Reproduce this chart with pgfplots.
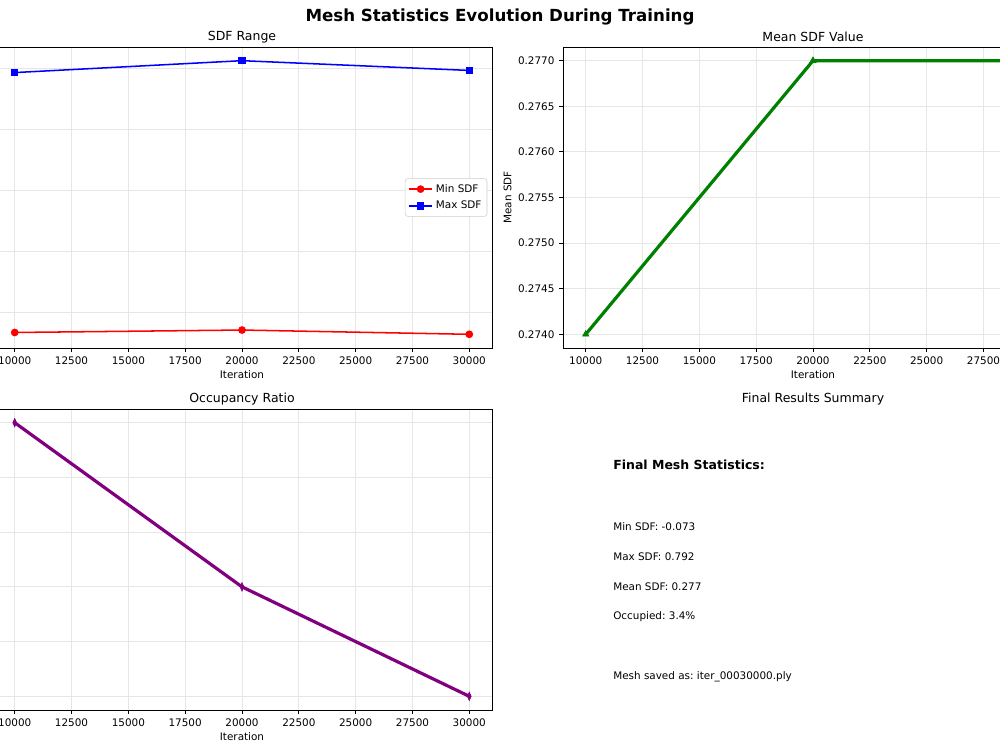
\documentclass[border=0pt]{standalone}
\usepackage{pgfplots}
\pgfplotsset{compat=1.18}
\usepackage{fontspec}
\setmainfont{DejaVu Sans}
\frenchspacing
\definecolor{mplgreen}{HTML}{008000}
\definecolor{mplpurple}{HTML}{800080}
\definecolor{gridgray}{HTML}{E6E6E6}
\pgfplotsset{
  mystyle/.style={
    scale only axis, width=360pt, height=216.72pt,
    anchor=south west,
    xmin=9000, xmax=31000,
    xtick={10000,12500,15000,17500,20000,22500,25000,27500,30000},
    scaled x ticks=false, scaled y ticks=false,
    /pgf/number format/1000 sep={},
    /pgf/number format/assume math mode=true,
    tick label style={font=\fontsize{7.5}{9}\selectfont},
    label style={font=\fontsize{7.5}{9}\selectfont},
    title style={font=\fontsize{9}{11}\selectfont, at={(0.5,1.0055)}, anchor=center},
    xlabel style={at={(0.5,-0.0897)}, anchor=center},
    ylabel style={at={(-0.111,0.5)}, anchor=center},
    grid=major, major grid style={gridgray, line width=0.6pt},
    axis line style={line width=0.6pt, black},
    tick style={black, line width=0.6pt},
    tick align=outside, major tick length=2.6pt,
    tick pos=left,
    clip=false,
  }
}
\begin{document}
\begin{tikzpicture}
\useasboundingbox (0pt,0pt) rectangle (720pt,540pt);
\begin{scope}
\clip (0pt,0pt) rectangle (720pt,540pt);
% Top-left: SDF Range
\begin{axis}[mystyle, at={(-5.76pt,289.44pt)},
  title={SDF Range}, xlabel={Iteration},
  ymin=-0.11785, ymax=0.86885,
  ytick={0,0.2,0.4,0.6,0.8}, yticklabels={},
  legend style={at={(0.9906,0.5)}, anchor=east, draw=black!20, rounded corners=2pt,
    font=\fontsize{7.5}{9}\selectfont, inner sep=2pt, row sep=1pt},
  legend cell align=left]
\addplot[red, line width=1.1pt, mark=*, mark size=2.2pt] coordinates {(10000,-0.067) (20000,-0.059) (30000,-0.073)};
\addlegendentry{Min SDF}
\addplot[blue, line width=1.1pt, mark=square*, mark size=2.0pt] coordinates {(10000,0.785) (20000,0.824) (30000,0.792)};
\addlegendentry{Max SDF}
\end{axis}
% Top-right: Mean SDF Value
\begin{axis}[mystyle, at={(405.36pt,289.44pt)},
  title={Mean SDF Value}, xlabel={Iteration}, ylabel={Mean SDF},
  xtick={10000,12500,15000,17500,20000,22500,25000,27500},
  ymin=0.27385, ymax=0.27715,
  ytick={0.2740,0.2745,0.2750,0.2755,0.2760,0.2765,0.2770},
  yticklabel style={/pgf/number format/.cd, fixed, fixed zerofill, precision=4}]
\addplot[mplgreen, line width=2.3pt, mark=triangle*, mark size=2.6pt, mark options={line width=0.5pt}] coordinates {(10000,0.274) (20000,0.277) (30000,0.277)};
\end{axis}
% Bottom-left: Occupancy Ratio
\begin{axis}[mystyle, at={(-5.76pt,28.8pt)},
  title={Occupancy Ratio}, xlabel={Iteration},
  ymin=0.0335, ymax=0.0445,
  ytick={0.034,0.036,0.038,0.040,0.042,0.044}, yticklabels={}]
\addplot[mplpurple, line width=2.3pt, mark=diamond*, mark size=3pt, mark options={xscale=0.6, line width=0.5pt}] coordinates {(10000,0.044) (20000,0.038) (30000,0.034)};
\end{axis}
% Bottom-right: summary
\begin{axis}[mystyle, at={(405.36pt,28.8pt)}, hide axis,
  xmin=0, xmax=1, ymin=0, ymax=1, grid=none, xtick=\empty, ytick=\empty,
  title={Final Results Summary}]
\node[anchor=west, inner sep=0pt, font=\fontsize{9}{11}\selectfont\bfseries] at (axis cs:0.1,0.814) {Final Mesh Statistics:};
\node[anchor=west, inner sep=0pt, font=\fontsize{7.5}{9}\selectfont] at (axis cs:0.1,0.608) {Min SDF: -0.073};
\node[anchor=west, inner sep=0pt, font=\fontsize{7.5}{9}\selectfont] at (axis cs:0.1,0.508) {Max SDF: 0.792};
\node[anchor=west, inner sep=0pt, font=\fontsize{7.5}{9}\selectfont] at (axis cs:0.1,0.409) {Mean SDF: 0.277};
\node[anchor=west, inner sep=0pt, font=\fontsize{7.5}{9}\selectfont] at (axis cs:0.1,0.309) {Occupied: 3.4\%};
\node[anchor=west, inner sep=0pt, font=\fontsize{7.5}{9}\selectfont] at (axis cs:0.1,0.110) {Mesh saved as: iter\_00030000.ply};
\end{axis}
\node[font=\fontsize{12}{14}\selectfont\bfseries] at (360pt,527.8pt) {Mesh Statistics Evolution During Training};
\end{scope}
\end{tikzpicture}
\end{document}
